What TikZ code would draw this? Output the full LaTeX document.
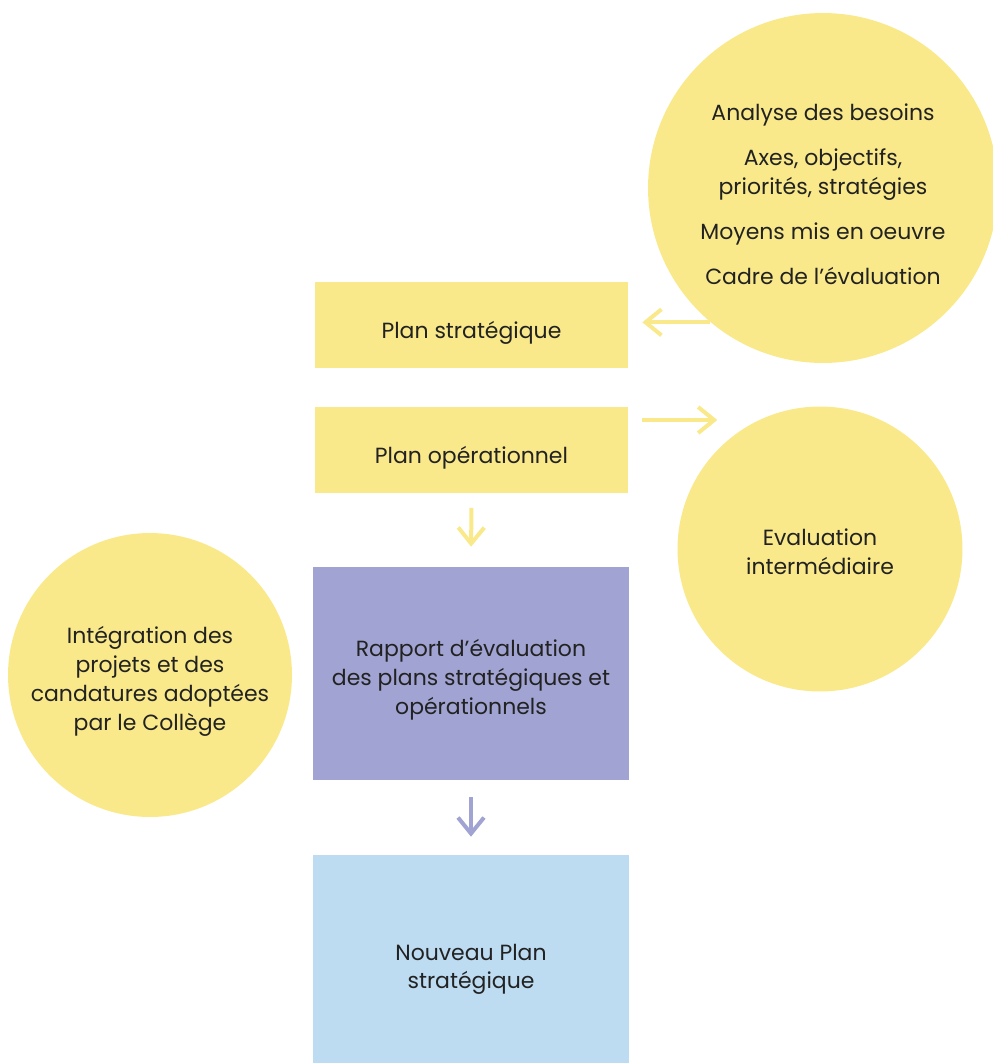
\documentclass[tikz,border=0pt]{standalone}
\usepackage{fontspec}
\setmainfont{Poppins}
\usetikzlibrary{arrows.meta}
\definecolor{jaune}{HTML}{F9E98B}
\definecolor{mauve}{HTML}{A1A4D3}
\definecolor{bleuclair}{HTML}{BDDCF2}
\definecolor{texte}{HTML}{222222}
\newcommand\cale[1][19pt]{\rule{0pt}{#1}}

\begin{document}
\begin{tikzpicture}[x=0.02cm, y=-0.02cm,
        every node/.style={text=texte, font=\fontsize{12.5}{16.5}\selectfont, align=center},
        boite/.style={minimum width=6.26cm, minimum height=1.72cm, inner sep=0pt},
        rond/.style={circle, fill=jaune, inner sep=0pt},
        fleche/.style={-{Straight Barb[length=3.2mm,width=5.2mm]}, line width=0.08cm}]
    \useasboundingbox (0,0) rectangle (993,1063);
    % cercles
    \node[rond, minimum size=7cm] (besoins) at (823,188)
        {\cale[17pt]Analyse des besoins\\[0.32cm] Axes, objectifs,\\ priorités, stratégies\\[0.32cm]
         Moyens mis en oeuvre\\[0.32cm] Cadre de l’évaluation};
    \node[rond, minimum size=5.7cm] (eval) at (820,549) {\cale[13pt]Evaluation\\ intermédiaire};
    \node[rond, minimum size=5.68cm] (integr) at (150,675)
        {\cale[17pt]Intégration des\\ projets et des\\ candatures adoptées\\ par le Collège};
    % plans
    \node[boite, fill=jaune] (strat) at (471.5,325) {\cale Plan stratégique};
    \node[boite, fill=jaune] (opera) at (471.5,449.5) {\cale Plan opérationnel};
    \node[boite, fill=mauve, minimum width=6.32cm, minimum height=4.26cm] (rapport) at (471,673.5)
        {\cale[17pt]Rapport d’évaluation\\ des plans stratégiques et\\ opérationnels};
    \node[boite, fill=bleuclair, minimum width=6.32cm, minimum height=4.16cm] (nouveau) at (471,959)
        {\cale[21pt]Nouveau Plan\\ stratégique};
    % fleches
    \draw[fleche, jaune, shorten >=0.28cm] (besoins.230.6) -- (besoins.230.6 -| strat.east);
    \draw[fleche, jaune] ([xshift=0.28cm, yshift=0.59cm]opera.east) -- ++(75,0);
    \draw[fleche, jaune, shorten <=0.3cm, shorten >=0.4cm] (opera.south) -- (rapport.north);
    \draw[fleche, mauve, shorten <=0.34cm, shorten >=0.36cm] (rapport.south) -- (nouveau.north);
\end{tikzpicture}
\end{document}
